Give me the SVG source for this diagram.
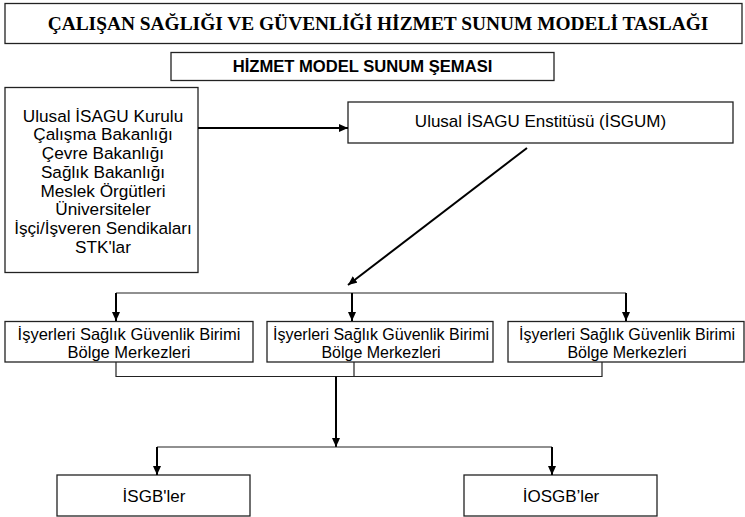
<svg xmlns="http://www.w3.org/2000/svg" width="745" height="517" viewBox="0 0 745 517">
<style>
.box{fill:#fff;stroke:#222;stroke-width:1.3}
.t{font-family:"Liberation Sans",Arial,sans-serif;fill:#000;text-anchor:middle}
.title{font-family:"Liberation Serif","Times New Roman",serif;font-weight:bold;font-size:19.4px;fill:#000;text-anchor:middle}
.sub{font-family:"Liberation Sans",Arial,sans-serif;font-weight:bold;font-size:16.6px;fill:#000;text-anchor:middle}
.arr{stroke:#000;stroke-width:2;fill:none}
.thin{stroke:#222;stroke-width:1.2;fill:none}
</style>
<defs>
<marker id="ah" markerUnits="userSpaceOnUse" markerWidth="9" markerHeight="8" refX="9" refY="4" orient="auto">
<path d="M0,0 L9,4 L0,8 z" fill="#000"/>
</marker>
</defs>
<rect width="745" height="517" fill="#fff"/>
<g id="title">
<rect class="box" x="5" y="3.5" width="737" height="40"/>
<text class="title" x="378" y="29.5">ÇALIŞAN SAĞLIĞI VE GÜVENLİĞİ HİZMET SUNUM MODELİ TASLAĞI</text>
</g>
<g id="subtitle">
<rect class="box" x="171" y="52.5" width="383" height="28"/>
<text class="sub" x="362.5" y="72">HİZMET MODEL SUNUM ŞEMASI</text>
</g>
<g id="stakeholders">
<rect class="box" x="5" y="87.5" width="193" height="185"/>
<text class="t" font-size="17.2" x="103" y="121.5">Ulusal İSAGU Kurulu</text>
<text class="t" font-size="17.2" x="103" y="140.3">Çalışma Bakanlığı</text>
<text class="t" font-size="17.2" x="103" y="159">Çevre Bakanlığı</text>
<text class="t" font-size="17.2" x="103" y="177.8">Sağlık Bakanlığı</text>
<text class="t" font-size="17.2" x="103" y="196.5">Meslek Örgütleri</text>
<text class="t" font-size="17.2" x="103" y="215.3">Üniversiteler</text>
<text class="t" font-size="17.2" x="103" y="234">İşçi/İşveren Sendikaları</text>
<text class="t" font-size="17.2" x="103" y="252.8">STK'lar</text>
</g>
<g id="isgum">
<rect class="box" x="348" y="102" width="385" height="41"/>
<text class="t" font-size="17" x="540.5" y="127">Ulusal İSAGU Enstitüsü (İSGUM)</text>
</g>
<g id="region1">
<rect class="box" x="5" y="321.5" width="248" height="40.5"/>
<text class="t" font-size="16.5" x="129" y="340">İşyerleri Sağlık Güvenlik Birimi</text>
<text class="t" font-size="16.5" x="129" y="357.5">Bölge Merkezleri</text>
</g>
<g id="region2">
<rect class="box" x="267" y="321.5" width="226" height="40.5"/>
<text class="t" font-size="16" x="381" y="340">İşyerleri Sağlık Güvenlik Birimi</text>
<text class="t" font-size="16" x="381" y="357.5">Bölge Merkezleri</text>
</g>
<g id="region3">
<rect class="box" x="508" y="321.5" width="236" height="40.5"/>
<text class="t" font-size="16" x="627" y="340">İşyerleri Sağlık Güvenlik Birimi</text>
<text class="t" font-size="16" x="627" y="357.5">Bölge Merkezleri</text>
</g>
<g id="isgb">
<rect class="box" x="57" y="475" width="193" height="41"/>
<text class="t" font-size="17" x="154" y="502">İSGB'ler</text>
</g>
<g id="iosgb">
<rect class="box" x="464" y="475" width="193" height="41"/>
<text class="t" font-size="17" x="561" y="502">İOSGB’ler</text>
</g>
<g id="connectors">
<line class="arr" x1="198" y1="128" x2="348" y2="128" marker-end="url(#ah)"/>
<line class="arr" x1="527" y1="148" x2="348" y2="285" marker-end="url(#ah)"/>
<line class="thin" x1="116" y1="293" x2="626" y2="293"/>
<line class="arr" x1="116" y1="293" x2="116" y2="321" marker-end="url(#ah)"/>
<line class="arr" x1="352" y1="293" x2="352" y2="321" marker-end="url(#ah)"/>
<line class="arr" x1="626" y1="293" x2="626" y2="321" marker-end="url(#ah)"/>
<polyline class="thin" points="116,362 116,376.5 602,376.5 602,362"/>
<line class="thin" x1="354" y1="362" x2="354" y2="376.5"/>
<line class="arr" x1="336" y1="376.5" x2="336" y2="447" marker-end="url(#ah)"/>
<line class="thin" x1="157" y1="447" x2="552" y2="447"/>
<line class="arr" x1="157" y1="447" x2="157" y2="475" marker-end="url(#ah)"/>
<line class="arr" x1="552" y1="447" x2="552" y2="475" marker-end="url(#ah)"/>
</g>
</svg>
